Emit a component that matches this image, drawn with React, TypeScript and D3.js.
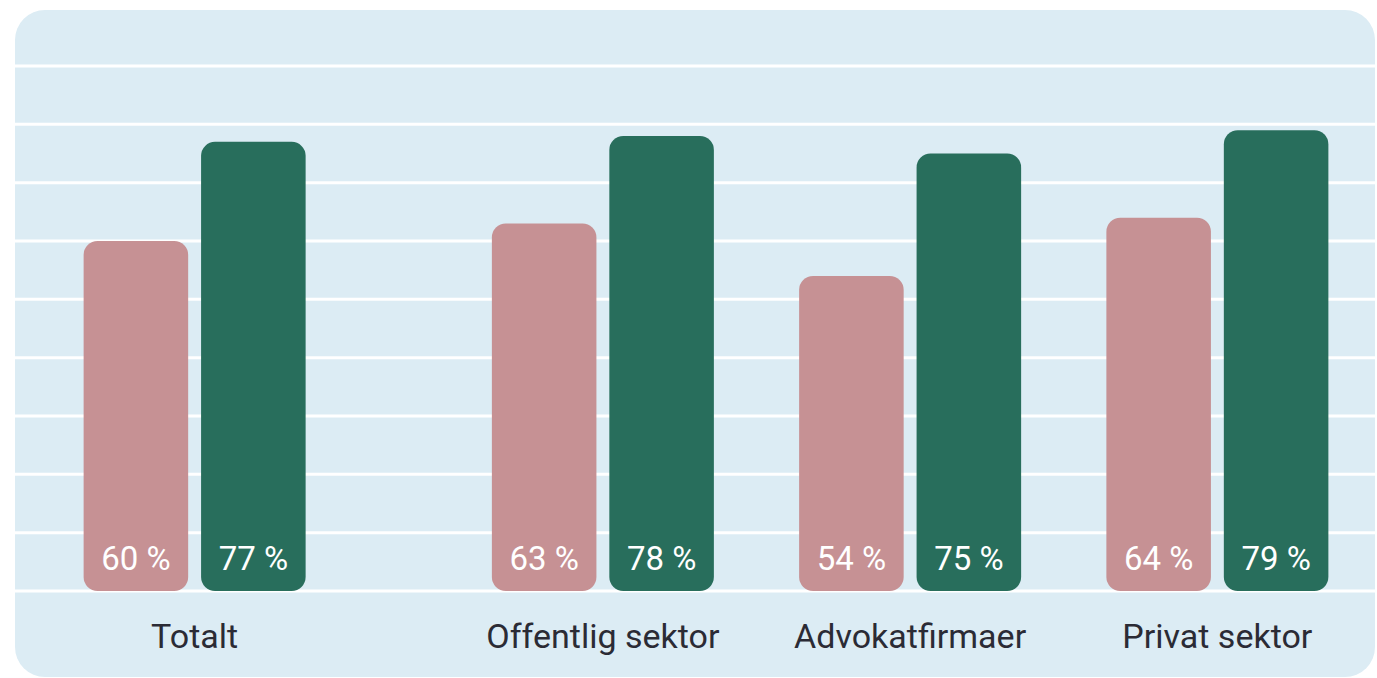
import React from 'react'
import * as d3 from 'd3'

const width = 1377
const height = 678
const categories = ['Totalt', 'Offentlig sektor', 'Advokatfirmaer', 'Privat sektor']
const series = ['before', 'after']
const beforeValues = [60, 63, 54, 64]
const afterValues = [77, 78, 75, 79]
const gridTicks = [0, 10, 20, 30, 40, 50, 60, 70, 80, 90]

const colors = { before: '#c69194', after: '#286e5c' }
const panel = { x: 15, y: 10, w: 1360, h: 667, r: 30 }
const firstGroupShift = -101

export default function App() {
  const y = d3.scaleLinear().domain([0, 90]).range([591, 66])
  const x0 = d3.scaleBand().domain(categories).range([142, 1371])
  const x1 = d3.scaleBand().domain(series).range([-111, 111]).paddingInner(0.11)

  const groupX = (c: string, i: number) =>
    (x0(c) as number) + x0.bandwidth() / 2 + (i === 0 ? firstGroupShift : 0)

  const rows = categories.map((c, i) => ({
    category: c,
    cx: groupX(c, i),
    values: [
      { key: 'before', value: beforeValues[i] },
      { key: 'after', value: afterValues[i] },
    ],
  }))

  return (
    <>
      <style>{`body{margin:0}`}</style>
      <svg width={width} height={height} style={{ display: 'block' }}>
        <rect x={panel.x} y={panel.y} width={panel.w} height={panel.h} rx={panel.r} fill="#dcecf4" />
        {gridTicks.map(t => (
          <line key={t} x1={panel.x} x2={panel.x + panel.w} y1={y(t)} y2={y(t)} stroke="#ffffff" strokeWidth={3} />
        ))}
        {rows.map(row => (
          <g key={row.category} transform={`translate(${row.cx},0)`}>
            {row.values.map(d => {
              const bx = x1(d.key) as number
              const bw = x1.bandwidth()
              return (
                <g key={d.key}>
                  <rect
                    x={bx}
                    y={y(d.value)}
                    width={bw}
                    height={y(0) - y(d.value)}
                    rx={14}
                    fill={colors[d.key as 'before' | 'after']}
                  />
                  <text
                    x={bx + bw / 2}
                    y={570}
                    textAnchor="middle"
                    fill="#ffffff"
                    fontFamily="Roboto, sans-serif"
                    fontSize={33}
                  >
                    {`${d.value} %`}
                  </text>
                </g>
              )
            })}
            <text
              x={0}
              y={648}
              textAnchor="middle"
              fill="#2b2b35"
              fontFamily="Roboto, sans-serif"
              fontSize={34}
            >
              {row.category}
            </text>
          </g>
        ))}
      </svg>
    </>
  )
}
